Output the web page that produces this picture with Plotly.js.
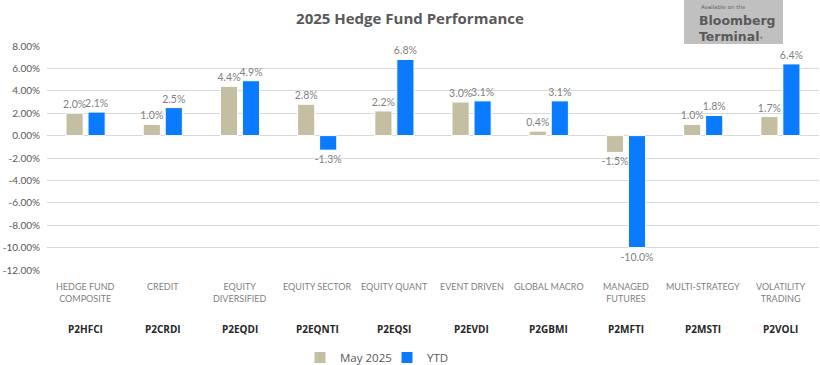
<!DOCTYPE html>
<html><head><meta charset="utf-8">
<script src="https://cdn.plot.ly/plotly-3.0.1.min.js"></script>
<style>html,body{margin:0;padding:0;background:#fff}#chart{width:820px;height:365px}</style>
</head><body><div id="chart"></div>
<script>
const codes = ["P2HFCI","P2CRDI","P2EQDI","P2EQNTI","P2EQSI","P2EVDI","P2GBMI","P2MFTI","P2MSTI","P2VOLI"];
const names = ["HEDGE FUND<br>COMPOSITE","CREDIT","EQUITY<br>DIVERSIFIED","EQUITY SECTOR","EQUITY QUANT","EVENT DRIVEN","GLOBAL MACRO","MANAGED<br>FUTURES","MULTI-STRATEGY","VOLATILITY<br>TRADING"];
const may2025 = [2.0, 1.0, 4.4, 2.8, 2.2, 3.0, 0.4, -1.5, 1.0, 1.7];
const ytd = [2.1, 2.5, 4.9, -1.3, 6.8, 3.1, 3.1, -10.0, 1.8, 6.4];
const yTicks = [8,6,4,2,0,-2,-4,-6,-8,-10,-12];

const labelFont = {family:"Lato, 'Open Sans', sans-serif", size:10.5, color:"#7F7F7F"};
const traces = [
  {type:"bar", name:"May 2025", x:codes, y:may2025, marker:{color:"#C4BEA3", line:{color:"#fff", width:1}},
   text:may2025.map(v=>v.toFixed(1)+"%"), textposition:"outside", constraintext:"none", cliponaxis:false, textfont:labelFont, hoverinfo:"none"},
  {type:"bar", name:"YTD", x:codes, y:ytd, marker:{color:"#0A7BFF", line:{color:"#fff", width:1}},
   text:ytd.map(v=>v.toFixed(1)+"%"), textposition:"outside", constraintext:"none", cliponaxis:false, textfont:labelFont, hoverinfo:"none"}
];

const W=820,H=365,ml=47,mr=1,mt=46,mb=95;
const px = x=>(x-ml)/(W-ml-mr), py = y=>(H-mb-y)/(H-mt-mb);

const annotations = [];
codes.forEach((c,i)=>{
  annotations.push({x:c, xref:"x", y:py(279), yref:"paper", yanchor:"top", text:names[i], showarrow:false,
    font:{family:"Lato, sans-serif", size:9, color:"#7F7F7F"}, align:"center"});
  annotations.push({x:c, xref:"x", y:py(320), yref:"paper", yanchor:"top", text:"<b>"+c+"</b>", showarrow:false,
    font:{family:"'Open Sans', sans-serif", size:10, color:"#262626"}});
});
annotations.push({x:px(699), y:py(7), xref:"paper", yref:"paper", xanchor:"left", yanchor:"middle", text:"Available on the", showarrow:false,
  font:{family:"'DejaVu Sans', sans-serif", size:5.5, color:"#666"}});
annotations.push({x:px(697), y:py(11), xref:"paper", yref:"paper", xanchor:"left", yanchor:"top", align:"left",
  text:"<b>Bloomberg</b><br><b>Terminal</b><span style='font-size:5px'><sup>®</sup></span>", showarrow:false,
  font:{family:"'DejaVu Sans', sans-serif", size:12.5, color:"#5a5a5a"}});

const layout = {
  width:W, height:H, margin:{l:ml, r:mr, t:mt, b:mb, autoexpand:false},
  paper_bgcolor:"#fff", plot_bgcolor:"#fff",
  title:{text:"<b>2025 Hedge Fund Performance</b>", x:0.5, xanchor:"center", y:0.95, yanchor:"middle",
    font:{family:"'Open Sans', sans-serif", size:15, color:"#595959"}},
  barmode:"group", bargap:0.43, bargroupgap:0.22,
  xaxis:{type:"category", showticklabels:false, showgrid:false, zeroline:false, showline:false, ticks:""},
  yaxis:{range:[-12,8], tickvals:yTicks, ticktext:yTicks.map(v=>v.toFixed(2)+"%"), showgrid:true, gridcolor:"#D9D9D9", gridwidth:1,
    zeroline:true, zerolinecolor:"#D9D9D9", zerolinewidth:1, showline:false, ticks:"", ticklabelstandoff:6,
    tickfont:{family:"Lato, sans-serif", size:10, color:"#595959"}},
  showlegend:true,
  legend:{orientation:"h", x:px(300), xanchor:"left", y:py(343), yanchor:"top", entrywidth:42, entrywidthmode:"pixels",
    font:{family:"'Open Sans', sans-serif", size:11.5, color:"#595959"}, itemwidth:30, traceorder:"normal"},
  shapes:[{type:"rect", xref:"paper", yref:"paper", x0:px(684), x1:px(783), y0:py(0), y1:py(44), fillcolor:"#C0C0C0", line:{width:0}, layer:"above"}],
  annotations:annotations
};
Plotly.newPlot("chart", traces, layout, {displayModeBar:false, staticPlot:true});
</script></body></html>
